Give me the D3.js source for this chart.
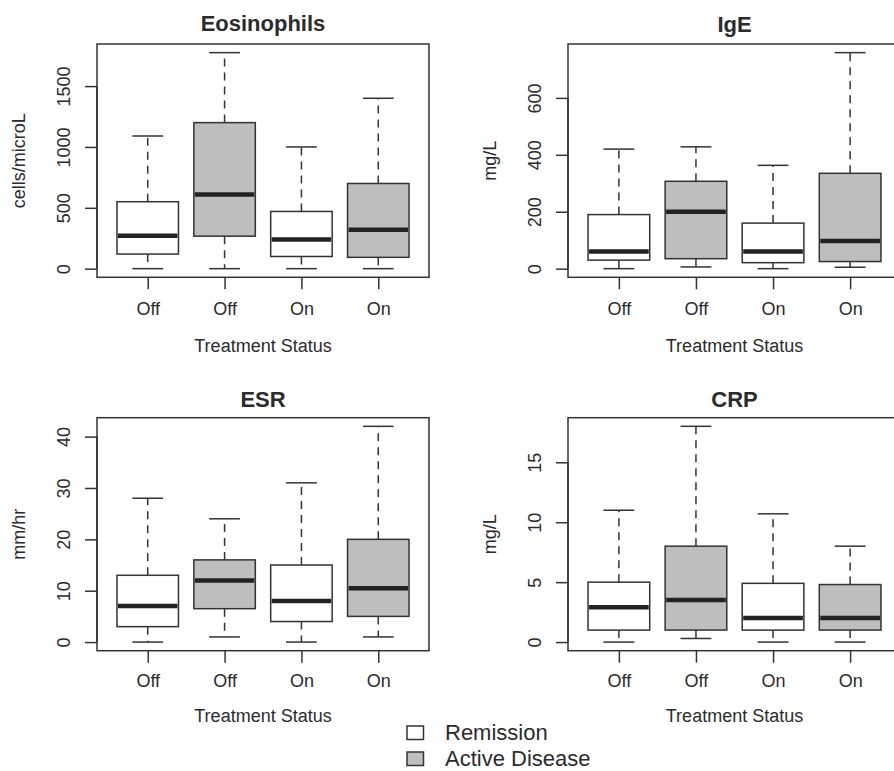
<!DOCTYPE html>
<html>
<head>
<meta charset="utf-8">
<script src="https://cdn.jsdelivr.net/npm/d3@7"></script>
<style>
  body { margin: 0; background: #fff; }
  svg { display: block; }
  text { font-family: "Liberation Sans", Arial, sans-serif; fill: #2b2b2b; }
</style>
</head>
<body>
<div id="chart"></div>
<script>
// treatment status for each box, and disease state (decides the fill)
var statuses = ['Off', 'Off', 'On', 'On'];
var diseaseStates = ['Remission', 'Active Disease', 'Remission', 'Active Disease'];

// [lower whisker, q1, median, q3, upper whisker]
var eosinophilStats = [
  [0, 120, 270, 550, 1090],
  [0, 267, 610, 1200, 1775],
  [0, 100, 240, 470, 1000],
  [0, 93, 320, 700, 1400]
];
var igeStats = [
  [0, 30, 60, 190, 420],
  [6, 35, 200, 307, 428],
  [0, 21, 60, 160, 363],
  [5, 25, 97, 335, 759]
];
var esrStats = [
  [0, 3, 7, 13, 28],
  [1, 6.5, 12, 16, 24],
  [0, 4, 8, 15, 31],
  [1, 5, 10.5, 20, 42]
];
var crpStats = [
  [0, 1, 2.9, 5, 11],
  [0.3, 1, 3.5, 8, 18],
  [0, 1, 2, 4.9, 10.7],
  [0, 1, 2, 4.8, 8]
];

var eosinophilTicks = [0, 500, 1000, 1500];
var igeTicks = [0, 200, 400, 600];
var esrTicks = [0, 10, 20, 30, 40];
var crpTicks = [0, 5, 10, 15];

var titles = ['Eosinophils', 'IgE', 'ESR', 'CRP'];
var units = ['cells/microL', 'mg/L', 'mm/hr', 'mg/L'];
var xTitle = 'Treatment Status';

var line_color = '#333',
  text_color = '#2b2b2b',
  active_fill = '#bebebe';

var fill = d3.scaleOrdinal()
  .domain(['Remission', 'Active Disease'])
  .range(['#fff', active_fill]);

var width = 894, height = 771;

var svg = d3.select('#chart').append('svg')
  .attr('width', width)
  .attr('height', height);

// panel frames (plot region) and text baselines
var layout = [
  { left: 97, right: 429, top: 44, bottom: 277.3, titleY: 31, tickY: 315, labY: 351.7 },
  { left: 568, right: 901, top: 44, bottom: 277.3, titleY: 31.5, tickY: 315, labY: 351.7 },
  { left: 97, right: 429, top: 417.7, bottom: 650.7, titleY: 407.3, tickY: 686.7, labY: 721.7 },
  { left: 568, right: 901, top: 417.7, bottom: 650.7, titleY: 407.3, tickY: 686.7, labY: 721.7 }
];
var allStats = [eosinophilStats, igeStats, esrStats, crpStats];
var allTicks = [eosinophilTicks, igeTicks, esrTicks, crpTicks];

function draw_panel(i) {
  var L = layout[i], stats = allStats[i];
  var g = svg.append('g');

  // R style: 4% extension of the data range
  var lo = d3.min(stats, function(d) { return d[0]; }),
    hi = d3.max(stats, function(d) { return d[4]; }),
    pad = (hi - lo) * 0.04;
  var y = d3.scaleLinear().domain([lo - pad, hi + pad]).range([L.bottom, L.top]);
  var x = d3.scaleLinear().domain([0.5 - 0.16, statuses.length + 0.5 + 0.16]).range([L.left, L.right]);
  var boxW = x(1.4) - x(0.6);   // boxwex 0.8
  var capW = boxW / 2;          // staplewex 0.5

  // y axis
  var yAxis = d3.axisLeft(y).tickValues(allTicks[i]).tickSize(12).tickSizeOuter(0)
    .tickFormat(d3.format('d'));
  var ya = g.append('g').attr('transform', 'translate(' + L.left + ',0)').call(yAxis);
  ya.select('.domain').remove();
  ya.selectAll('.tick line').attr('stroke', line_color).attr('stroke-width', 1.5);
  ya.selectAll('.tick text')
    .attr('x', 0).attr('dy', null)
    .attr('text-anchor', 'middle')
    .attr('transform', 'translate(-27,0) rotate(-90)')
    .style('font-size', '18px')
    .style('font-family', '"Liberation Sans", Arial, sans-serif')
    .attr('fill', text_color);
  var t0 = allTicks[i][0], t1 = allTicks[i][allTicks[i].length - 1];
  g.append('line')
    .attr('x1', L.left).attr('x2', L.left)
    .attr('y1', y(t0)).attr('y2', y(t1))
    .attr('stroke', line_color).attr('stroke-width', 1.5);

  // x axis
  var idx = d3.range(1, statuses.length + 1);
  var xAxis = d3.axisBottom(x).tickValues(idx).tickSize(12).tickSizeOuter(0)
    .tickFormat(function(d) { return statuses[d - 1]; });
  var xa = g.append('g').attr('transform', 'translate(0,' + L.bottom + ')').call(xAxis);
  xa.select('.domain').remove();
  xa.selectAll('.tick line').attr('stroke', line_color).attr('stroke-width', 1.5);
  xa.selectAll('.tick text')
    .attr('y', L.tickY - L.bottom).attr('dy', null)
    .style('font-size', '18px')
    .style('font-family', '"Liberation Sans", Arial, sans-serif')
    .attr('fill', text_color);

  // boxes
  var boxes = g.selectAll('g.box').data(stats).enter().append('g').attr('class', 'box');
  boxes.append('line')
    .attr('x1', function(d, j) { return x(j + 1); })
    .attr('x2', function(d, j) { return x(j + 1); })
    .attr('y1', function(d) { return y(d[3]); })
    .attr('y2', function(d) { return y(d[4]); })
    .attr('stroke', line_color).attr('stroke-width', 1.5)
    .attr('stroke-dasharray', '8,6');
  boxes.append('line')
    .attr('x1', function(d, j) { return x(j + 1); })
    .attr('x2', function(d, j) { return x(j + 1); })
    .attr('y1', function(d) { return y(d[1]); })
    .attr('y2', function(d) { return y(d[0]); })
    .attr('stroke', line_color).attr('stroke-width', 1.5)
    .attr('stroke-dasharray', '8,6');
  [0, 4].forEach(function(k) {
    boxes.append('line')
      .attr('x1', function(d, j) { return x(j + 1) - capW / 2; })
      .attr('x2', function(d, j) { return x(j + 1) + capW / 2; })
      .attr('y1', function(d) { return y(d[k]); })
      .attr('y2', function(d) { return y(d[k]); })
      .attr('stroke', line_color).attr('stroke-width', 1.5);
  });
  boxes.append('rect')
    .attr('x', function(d, j) { return x(j + 1) - boxW / 2; })
    .attr('width', boxW)
    .attr('y', function(d) { return y(d[3]); })
    .attr('height', function(d) { return y(d[1]) - y(d[3]); })
    .attr('fill', function(d, j) { return fill(diseaseStates[j]); })
    .attr('stroke', line_color).attr('stroke-width', 1.5);
  boxes.append('line')
    .attr('x1', function(d, j) { return x(j + 1) - boxW / 2 + 1; })
    .attr('x2', function(d, j) { return x(j + 1) + boxW / 2 - 1; })
    .attr('y1', function(d) { return y(d[2]); })
    .attr('y2', function(d) { return y(d[2]); })
    .attr('stroke', '#222').attr('stroke-width', 4.5);

  // frame
  g.append('rect')
    .attr('x', L.left).attr('y', L.top)
    .attr('width', L.right - L.left).attr('height', L.bottom - L.top)
    .attr('fill', 'none').attr('stroke', line_color).attr('stroke-width', 1.5);

  // labels
  g.append('text')
    .attr('x', (L.left + L.right) / 2).attr('y', L.titleY)
    .attr('text-anchor', 'middle')
    .style('font-size', '22px').style('font-weight', 'bold')
    .text(titles[i]);
  g.append('text')
    .attr('x', (L.left + L.right) / 2).attr('y', L.labY)
    .attr('text-anchor', 'middle')
    .style('font-size', '18px')
    .text(xTitle);
  g.append('text')
    .attr('transform', 'translate(' + (L.left - 72) + ',' + ((L.top + L.bottom) / 2) + ') rotate(-90)')
    .attr('text-anchor', 'middle')
    .style('font-size', '18px')
    .text(units[i]);
}

for (var i = 0; i < 4; i++) {
  draw_panel(i);
}

// legend
var legendItems = ['Remission', 'Active Disease'];
var legend = svg.selectAll('g.legend').data(legendItems).enter().append('g')
  .attr('class', 'legend')
  .attr('transform', function(d, j) { return 'translate(407,' + (726 + j * 26) + ')'; });
legend.append('rect')
  .attr('width', 16.5).attr('height', 13.5)
  .attr('fill', function(d) { return fill(d); })
  .attr('stroke', line_color).attr('stroke-width', 1.5);
legend.append('text')
  .attr('x', 38).attr('y', 14)
  .style('font-size', '22px')
  .text(function(d) { return d; });
</script>
</body>
</html>
